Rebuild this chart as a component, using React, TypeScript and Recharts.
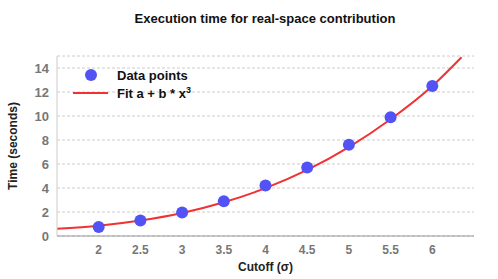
import { ComposedChart, Line, Scatter, XAxis, YAxis, CartesianGrid } from "recharts"

const cutoffs = [2, 2.5, 3, 3.5, 4, 4.5, 5, 5.5, 6]
const times = [0.75, 1.3, 1.95, 2.9, 4.2, 5.7, 7.6, 9.9, 12.5]

// fit curve
const fitX = [1.5, 2, 2.5, 3, 3.5, 4, 4.5, 5, 5.5, 6, 6.35]
const fitY = [0.6, 0.86, 1.29, 1.92, 2.81, 3.99, 5.51, 7.41, 9.73, 12.5, 14.9]

const xTicks = [2, 2.5, 3, 3.5, 4, 4.5, 5, 5.5, 6]
const yTicks = [0, 2, 4, 6, 8, 10, 12, 14]

const points = cutoffs.map((x, i) => ({ x, y: times[i] }))
const fit = fitX.map((x, i) => ({ x, y: fitY[i] }))

const font = "'Liberation Sans', Arial, sans-serif"

function LegendBox() {
  return (
    <div
      style={{
        position: "absolute",
        left: 73,
        top: 66,
        fontFamily: font,
        fontWeight: "bold",
        fontSize: 13,
        color: "#111",
      }}
    >
      <div style={{ display: "flex", alignItems: "center", height: 18 }}>
        <span style={{ width: 35, display: "flex", justifyContent: "center" }}>
          <span style={{ width: 12, height: 12, borderRadius: 6, background: "#5252f5", display: "inline-block" }} />
        </span>
        <span style={{ marginLeft: 9 }}>Data points</span>
      </div>
      <div style={{ display: "flex", alignItems: "center", height: 18 }}>
        <span style={{ width: 35, height: 2, background: "#f03232", display: "inline-block" }} />
        <span style={{ marginLeft: 9 }}>
          Fit a + b * x<sup style={{ fontSize: 9 }}>3</sup>
        </span>
      </div>
    </div>
  )
}

export default function App() {
  return (
    <div style={{ position: "absolute", left: 0, top: 0, width: 498, height: 279, background: "#fff" }}>
      <div
        style={{
          position: "absolute",
          top: 11,
          left: 16,
          width: 498,
          textAlign: "center",
          fontFamily: font,
          fontWeight: "bold",
          fontSize: 13,
          color: "#111",
        }}
      >
        Execution time for real-space contribution
      </div>
      <ComposedChart width={498} height={279} margin={{ top: 56, right: 24, bottom: 10, left: 0 }}>
        <CartesianGrid horizontal vertical={false} stroke="#cccccc" strokeDasharray="3 2" />
        <XAxis
          type="number"
          dataKey="x"
          domain={[1.5, 6.5]}
          ticks={xTicks}
          allowDataOverflow
          height={33}
          stroke="#999"
          tickLine={false}
          tick={{ fill: "#777", fontSize: 12, fontWeight: "bold", fontFamily: font, dy: 1 }}
          label={{
            value: "Cutoff (σ)",
            position: "insideBottom",
            offset: -2,
            style: { fill: "#222", fontSize: 12, fontWeight: "bold", fontFamily: font },
          }}
        />
        <YAxis
          type="number"
          dataKey="y"
          domain={[0, 15]}
          ticks={yTicks}
          allowDataOverflow
          width={57}
          stroke="#ccc"
          tickLine={false}
          tick={{ fill: "#777", fontSize: 13, fontWeight: "bold", fontFamily: font }}
          label={{
            value: "Time (seconds)",
            angle: -90,
            position: "insideLeft",
            offset: 13,
            style: { textAnchor: "middle", fill: "#222", fontSize: 12, fontWeight: "bold", fontFamily: font },
          }}
        />
        <Line
          data={fit}
          dataKey="y"
          type="monotone"
          stroke="#f03232"
          strokeWidth={2}
          dot={false}
          isAnimationActive={false}
        />
        <Scatter
          data={points}
          dataKey="y"
          fill="#5252f5"
          shape={(p: any) => <circle cx={p.cx} cy={p.cy} r={6} fill="#5252f5" />}
          isAnimationActive={false}
        />
      </ComposedChart>
      <LegendBox />
    </div>
  )
}
